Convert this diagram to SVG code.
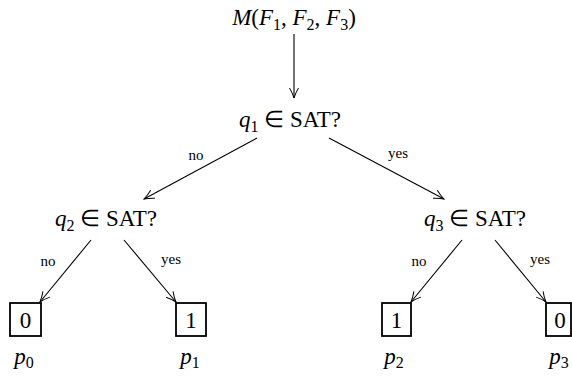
<svg xmlns="http://www.w3.org/2000/svg" width="572" height="383" viewBox="0 0 572 383">
  <style>
    .edge { stroke: #000; stroke-width: 1.1; fill: none; marker-end: url(#vee); }
    .leaf { fill: #fff; stroke: #000; stroke-width: 1.8; }
  </style>
  <defs>
    <marker id="vee" viewBox="0 0 12 12" refX="11" refY="6" markerWidth="12" markerHeight="12" markerUnits="userSpaceOnUse" orient="auto">
      <path d="M1,1.5 Q6,4.5 11,6 Q6,7.5 1,10.5" fill="none" stroke="#000" stroke-width="1"/>
    </marker>
  </defs>

  <!-- edges of the decision tree, with their branch labels -->
  <g id="connectors">
    <line class="edge" x1="294" y1="34" x2="294" y2="98"/>
    <line class="edge" x1="257" y1="138" x2="144" y2="199"/>
    <line class="edge" x1="329" y1="138" x2="444" y2="199"/>
    <line class="edge" x1="91" y1="240" x2="40" y2="302"/>
    <line class="edge" x1="124" y1="240" x2="176" y2="302"/>
    <line class="edge" x1="462" y1="240" x2="411" y2="302"/>
    <line class="edge" x1="495" y1="240" x2="546" y2="302"/>
    <text style="font-family:'Liberation Serif',serif;font-size:15px" x="196" y="160" text-anchor="middle">no</text>
    <text style="font-family:'Liberation Serif',serif;font-size:15px" x="398" y="158" text-anchor="middle">yes</text>
    <text style="font-family:'Liberation Serif',serif;font-size:15px" x="48" y="266" text-anchor="middle">no</text>
    <text style="font-family:'Liberation Serif',serif;font-size:15px" x="171" y="264" text-anchor="middle">yes</text>
    <text style="font-family:'Liberation Serif',serif;font-size:15px" x="419" y="266" text-anchor="middle">no</text>
    <text style="font-family:'Liberation Serif',serif;font-size:15px" x="540" y="264" text-anchor="middle">yes</text>
  </g>

  <g id="root">
    <text style="font-family:'Liberation Serif',serif;font-size:23px" x="294" y="25" text-anchor="middle"><tspan font-style="italic">M</tspan>(<tspan font-style="italic">F</tspan><tspan font-size="16" dy="5">1</tspan><tspan dy="-5">, </tspan><tspan font-style="italic">F</tspan><tspan font-size="16" dy="5">2</tspan><tspan dy="-5">, </tspan><tspan font-style="italic">F</tspan><tspan font-size="16" dy="5">3</tspan><tspan dy="-5">)</tspan></text>
  </g>

  <g id="q1">
    <text style="font-family:'Liberation Serif',serif;font-size:23px" x="290" y="127" text-anchor="middle"><tspan font-style="italic">q</tspan><tspan font-size="16" dy="5">1</tspan><tspan dy="-5"> ∈ SAT?</tspan></text>
  </g>
  <g id="q2">
    <text style="font-family:'Liberation Serif',serif;font-size:23px" x="106" y="226" text-anchor="middle"><tspan font-style="italic">q</tspan><tspan font-size="16" dy="5">2</tspan><tspan dy="-5"> ∈ SAT?</tspan></text>
  </g>
  <g id="q3">
    <text style="font-family:'Liberation Serif',serif;font-size:23px" x="475" y="226" text-anchor="middle"><tspan font-style="italic">q</tspan><tspan font-size="16" dy="5">3</tspan><tspan dy="-5"> ∈ SAT?</tspan></text>
  </g>

  <g id="leaf0">
    <rect class="leaf" x="10" y="303" width="31" height="33"/>
    <text style="font-family:'Liberation Serif',serif;font-size:23px" x="25.5" y="328" text-anchor="middle">0</text>
    <text style="font-family:'Liberation Serif',serif;font-size:23px" x="24" y="364" text-anchor="middle"><tspan font-style="italic">p</tspan><tspan font-size="16" dy="4">0</tspan></text>
  </g>
  <g id="leaf1">
    <rect class="leaf" x="176" y="303" width="30" height="33"/>
    <text style="font-family:'Liberation Serif',serif;font-size:23px" x="191" y="328" text-anchor="middle">1</text>
    <text style="font-family:'Liberation Serif',serif;font-size:23px" x="190" y="364" text-anchor="middle"><tspan font-style="italic">p</tspan><tspan font-size="16" dy="4">1</tspan></text>
  </g>
  <g id="leaf2">
    <rect class="leaf" x="382" y="303" width="29" height="33"/>
    <text style="font-family:'Liberation Serif',serif;font-size:23px" x="396.5" y="328" text-anchor="middle">1</text>
    <text style="font-family:'Liberation Serif',serif;font-size:23px" x="394" y="364" text-anchor="middle"><tspan font-style="italic">p</tspan><tspan font-size="16" dy="4">2</tspan></text>
  </g>
  <g id="leaf3">
    <rect class="leaf" x="546" y="303" width="25" height="33"/>
    <text style="font-family:'Liberation Serif',serif;font-size:23px" x="560" y="328" text-anchor="middle">0</text>
    <text style="font-family:'Liberation Serif',serif;font-size:23px" x="559" y="364" text-anchor="middle"><tspan font-style="italic">p</tspan><tspan font-size="16" dy="4">3</tspan></text>
  </g>
</svg>
